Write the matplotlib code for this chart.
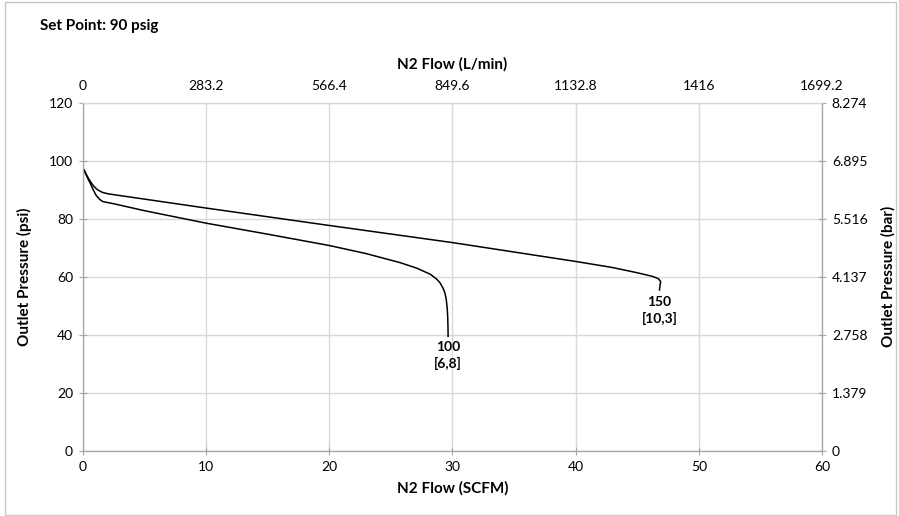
import matplotlib
matplotlib.use("Agg")
import matplotlib.pyplot as plt
from matplotlib.patches import Rectangle

plt.rcParams['font.family'] = ['Lato', 'DejaVu Sans']

# flow (SCFM) vs outlet pressure (psi)
flow_100 = [0.1, 0.35, 0.6, 0.85, 1.1, 1.4, 1.65, 2.5, 5, 10, 15, 20, 23, 25.75, 27.1, 28.2, 28.7, 29.0, 29.25, 29.4,
            29.5, 29.58, 29.62, 29.64, 29.65]
psi_100 = [96.9, 94.5, 92.3, 90.0, 88.0, 86.6, 85.9, 85.2, 82.8, 78.5, 74.7, 70.8, 68.0, 64.9, 63.0, 60.9, 59.3, 57.9, 56.0, 54.3,
           52.2, 49.0, 45.8, 42.5, 39.5]

flow_150 = [0.1, 0.35, 0.6, 0.9, 1.2, 1.6, 2.05, 10, 20, 30, 40, 43, 45, 46.2, 46.7, 46.9, 46.85, 46.8]
psi_150 = [96.9, 94.8, 93.0, 91.2, 90.0, 89.1, 88.6, 83.7, 77.7, 71.8, 65.3, 63.2, 61.4, 60.2, 59.4, 58.4, 57.2, 55.5]

curve_labels = ["100\n[6,8]", "150\n[10,3]"]

x_ticks = [0, 10, 20, 30, 40, 50, 60]
y_ticks = [0, 20, 40, 60, 80, 100, 120]
lpm_labels = ["0", "283.2", "566.4", "849.6", "1132.8", "1416", "1699.2"]
bar_labels = ["0", "1.379", "2.758", "4.137", "5.516", "6.895", "8.274"]

axis_gray = "#a6a6a6"
grid_gray = "#d9d9d9"

fig = plt.figure(figsize=(8.99, 5.16), dpi=100)
fig.patches.append(Rectangle((0.006, 0.002), 0.991, 0.994, transform=fig.transFigure,
                             fill=False, edgecolor="#c8c8c8", linewidth=1.0))

ax = fig.add_axes([0.092, 0.126, 0.8225, 0.675])
ax.set_xlim(0, 60)
ax.set_ylim(0, 120)
ax.set_xticks(x_ticks)
ax.set_yticks(y_ticks)
ax.grid(True, color=grid_gray, linewidth=1.0)
ax.set_axisbelow(True)

ax.plot(flow_100, psi_100, color="black", linewidth=1.1)
ax.plot(flow_150, psi_150, color="black", linewidth=1.1)

# labels at the end of each curve
ax.text(flow_100[-1], psi_100[-1] - 1.5, curve_labels[0], ha="center", va="top",
        fontsize=10, fontweight="bold", linespacing=1.35)
ax.text(flow_150[-1], psi_150[-1] - 2.0, curve_labels[1], ha="center", va="top",
        fontsize=10, fontweight="bold", linespacing=1.35)

for side in ["left", "bottom", "right"]:
    ax.spines[side].set_color(axis_gray)
ax.spines["top"].set_color(grid_gray)
ax.tick_params(axis="both", direction="inout", length=6, color=axis_gray, labelsize=10, pad=4)
ax.set_xlabel("N2 Flow (SCFM)", fontsize=11, fontweight="bold", labelpad=6)
ax.set_ylabel("Outlet Pressure (psi)", fontsize=11, fontweight="bold", labelpad=12)

# secondary axes: L/min on top, bar on right
top = ax.twiny()
top.set_xlim(ax.get_xlim())
top.set_xticks(x_ticks)
top.set_xticklabels(lpm_labels)
top.tick_params(axis="x", length=0, labelsize=10, pad=8)
top.set_xlabel("N2 Flow (L/min)", fontsize=11, fontweight="bold", labelpad=8)

right = ax.twinx()
right.set_ylim(ax.get_ylim())
right.set_yticks(y_ticks)
right.set_yticklabels(bar_labels)
right.tick_params(axis="y", direction="inout", length=6, color=axis_gray, labelsize=10, pad=4)
right.set_ylabel("Outlet Pressure (bar)", fontsize=11, fontweight="bold", labelpad=10)
for a in (top, right):
    for side in ["left", "bottom", "right"]:
        a.spines[side].set_color(axis_gray)
    a.spines["top"].set_color(grid_gray)

fig.text(0.045, 0.95, "Set Point: 90 psig", fontsize=11, fontweight="bold", ha="left", va="center")

fig.savefig("out.png", dpi=100)
